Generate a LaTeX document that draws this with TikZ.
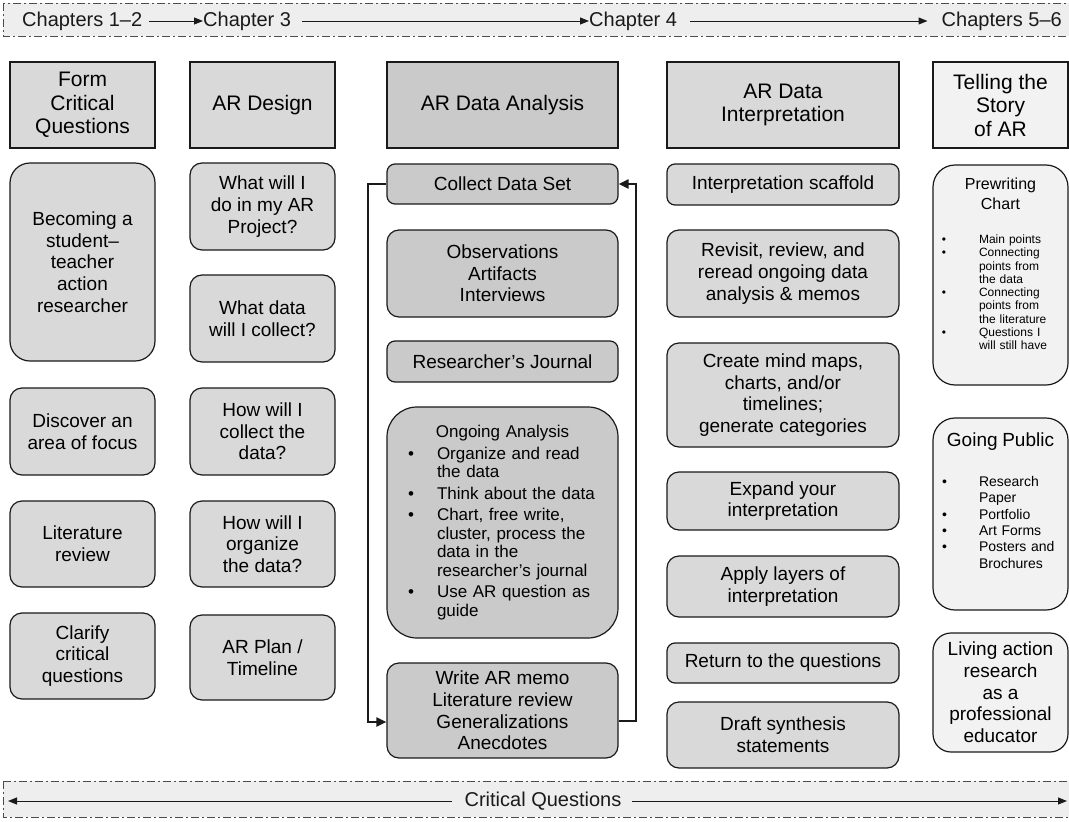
\documentclass[tikz,border=0pt]{standalone}
\usepackage{fontspec}
\setmainfont{Liberation Sans}
\usetikzlibrary{arrows.meta,positioning}

\definecolor{argray}{HTML}{D9D9D9}
\definecolor{ardark}{HTML}{CACACA}
\definecolor{arlight}{HTML}{F2F2F2}
\definecolor{arbar}{HTML}{EEEEEE}
\definecolor{arline}{HTML}{1A1A1A}

\newenvironment{arlist}[3]{\begin{list}{\textbullet}{%
  \setlength{\leftmargin}{#1}\setlength{\labelsep}{#2}%
  \setlength{\labelwidth}{\dimexpr#1-#2\relax}\setlength{\itemindent}{0pt}%
  \setlength{\itemsep}{#3}\setlength{\parsep}{0pt}%
  \setlength{\topsep}{0pt}\setlength{\partopsep}{0pt}}}{\end{list}}

\tikzset{
  arbox/.style={draw=arline, line width=1.2pt, align=center, inner sep=2pt,
    font=\fontsize{19pt}{21.7pt}\selectfont},
  hdrbox/.style={arbox, minimum height=86pt, font=\fontsize{21pt}{23.5pt}\selectfont},
  qbox/.style={arbox, fill=argray, rounded corners=12pt, minimum width=145pt},
  dbox/.style={arbox, fill=ardark, rounded corners=12pt, minimum width=231pt},
  ibox/.style={arbox, fill=argray, rounded corners=12pt, minimum width=232pt},
  sbox/.style={arbox, fill=arlight, rounded corners=20pt, minimum width=135pt},
  bartext/.style={font=\fontsize{20pt}{24pt}\selectfont, inner sep=0pt, text=arline,
    text height=14pt, text depth=4pt},
  barline/.style={draw=black!70, line width=0.9pt, fill=arbar,
    dash pattern=on 8pt off 3pt on 2pt off 3pt},
  chaparrow/.style={-{Triangle[length=9pt,width=7pt]}, line width=1pt, arline},
  looparrow/.style={-{Triangle[length=10pt,width=9pt]}, line width=2pt, arline},
}

\begin{document}
\begin{tikzpicture}[x=1pt, y=-1pt]
  \useasboundingbox[fill=white] (0,0) rectangle (1069,822);

  \draw[barline] (3,3) rectangle (1075,36);
  \draw[barline] (3,781) rectangle (1075,817);

  \node[bartext, anchor=west] (ch12) at (22,21) {Chapters 1–2};
  \node[bartext, anchor=west] (ch3) at (203,21) {Chapter 3};
  \node[bartext, anchor=west] (ch4) at (589,21) {Chapter 4};
  \node[bartext, anchor=east] (ch56) at (1062,21) {Chapters 5–6};
  \draw[chaparrow, shorten <=7pt] (ch12) -- (ch3);
  \draw[chaparrow, shorten <=11pt] (ch3) -- (ch4);
  \draw[chaparrow, shorten <=13pt, shorten >=14pt] (ch4) -- (ch56);

  \node[bartext] (cq) at (543,801) {Critical Questions};
  \coordinate (cqL) at (8,801);
  \coordinate (cqR) at (1067,801);
  \draw[chaparrow, shorten <=12pt] (cq) -- (cqL);
  \draw[chaparrow, shorten <=10pt] (cq) -- (cqR);

  \node[hdrbox, fill=argray, minimum width=145pt] (hForm) at (82.5,105) {Form\\Critical\\Questions};
  \node[hdrbox, fill=argray, minimum width=145pt] (hDesign) at (262.5,105) {AR Design};
  \node[hdrbox, fill=ardark, minimum width=231pt] (hAnalysis) at (502.5,105) {AR Data Analysis};
  \node[hdrbox, fill=argray, minimum width=232pt] (hInterp) at (783,105) {AR Data\\Interpretation};
  \node[hdrbox, fill=arlight, minimum width=135pt] (hStory) at (1000.5,105) {Telling the\\Story\\of AR};

  \node[qbox, minimum height=198pt, rounded corners=20pt] (becoming) at (82.5,262) {Becoming a\\student–\\teacher\\action\\researcher};
  \node[qbox, minimum height=87pt] (focus) at (82.5,431.5) {Discover an\\area of focus};
  \node[qbox, minimum height=86pt] (litrev) at (82.5,544) {Literature\\review};
  \node[qbox, minimum height=86pt] (clarify) at (82.5,656) {Clarify\\critical\\questions};

  \node[qbox, minimum height=87pt] (whatdo) at (262.5,206.5) {What will I\\do in my AR\\Project?};
  \node[qbox, minimum height=87pt] (whatdata) at (262.5,318.5) {What data\\will I collect?};
  \node[qbox, minimum height=87pt] (howcollect) at (262.5,431.5) {How will I\\collect the\\data?};
  \node[qbox, minimum height=86pt] (howorganize) at (262.5,544) {How will I\\organize\\the data?};
  \node[qbox, minimum height=85pt] (plan) at (262.5,657.5) {AR Plan /\\Timeline};

  \node[dbox, minimum height=40pt, rounded corners=8pt] (collect) at (502.5,184) {Collect Data Set};
  \node[dbox, minimum height=87pt] (observe) at (502.5,273.5) {Observations\\Artifacts\\Interviews};
  \node[dbox, minimum height=41pt, rounded corners=8pt] (journal) at (502.5,361.5) {Researcher’s Journal};
  \node[dbox, align=left, text width=205pt, inner xsep=13pt, minimum height=231pt, rounded corners=30pt,
    font=\fontsize{17pt}{18.5pt}\selectfont] (ongoing) at (502.5,522.5) {%
    {\centering Ongoing Analysis\par}\vspace{3pt}
    \begin{arlist}{37pt}{23pt}{3pt}
      \item Organize and read\\the data
      \item Think about the data
      \item Chart, free write,\\cluster, process the\\data in the\\researcher’s journal
      \item Use AR question as\\guide
    \end{arlist}};
  \node[dbox, minimum height=95pt] (memo) at (502.5,710.5) {Write AR memo\\Literature review\\Generalizations\\Anecdotes};
  \draw[looparrow] (collect.west) -- ++(-18,0) |- ([yshift=-11.5pt]memo.west);
  \draw[looparrow] ([yshift=-10.5pt]memo.east) -- ++(17,0) |- (collect.east);

  \node[ibox, minimum height=41pt, rounded corners=8pt] (scaffold) at (783,184.5) {Interpretation scaffold};
  \node[ibox, minimum height=87pt] (revisit) at (783,273.5) {Revisit, review, and\\reread ongoing data\\analysis \& memos};
  \node[ibox, minimum height=104pt] (mindmaps) at (783,395) {Create mind maps,\\charts, and/or\\timelines;\\generate categories};
  \node[ibox, minimum height=58pt] (expand) at (783,501) {Expand your\\interpretation};
  \node[ibox, minimum height=61pt] (layers) at (783,586.5) {Apply layers of\\interpretation};
  \node[ibox, minimum height=40pt, rounded corners=8pt] (questions) at (783,663) {Return to the questions};
  \node[ibox, minimum height=66pt] (draft) at (783,735) {Draft synthesis\\statements};

  \node[sbox, minimum height=220pt, rounded corners=22pt] (prewrite) at (1000.5,275) {};
  \node[anchor=north, text width=125pt, inner sep=0pt, align=left,
    font=\fontsize{12pt}{13.3pt}\selectfont] (prewriteText) at ([yshift=-13pt]prewrite.north) {%
    {\fontsize{16pt}{20pt}\selectfont\centering Prewriting\\Chart\par}\vspace{21pt}
    \begin{arlist}{41pt}{33pt}{0pt}
      \item Main points
      \item Connecting\\points from\\the data
      \item Connecting\\points from\\the literature
      \item Questions I\\will still have
    \end{arlist}};
  \node[sbox, minimum height=192pt, rounded corners=22pt] (public) at (1000.5,514) {};
  \node[anchor=north, text width=125pt, inner sep=0pt, align=left,
    font=\fontsize{14pt}{16.3pt}\selectfont] (publicText) at ([yshift=-15pt]public.north) {%
    {\fontsize{19pt}{21.7pt}\selectfont\centering Going Public\par}\vspace{24pt}
    \begin{arlist}{41pt}{32pt}{0pt}
      \item Research\\Paper
      \item Portfolio
      \item Art Forms
      \item Posters and\\Brochures
    \end{arlist}};
  \node[sbox, minimum height=119pt, rounded corners=18pt] (living) at (1000.5,692.5) {Living action\\research\\as a\\professional\\educator};
\end{tikzpicture}
\end{document}
